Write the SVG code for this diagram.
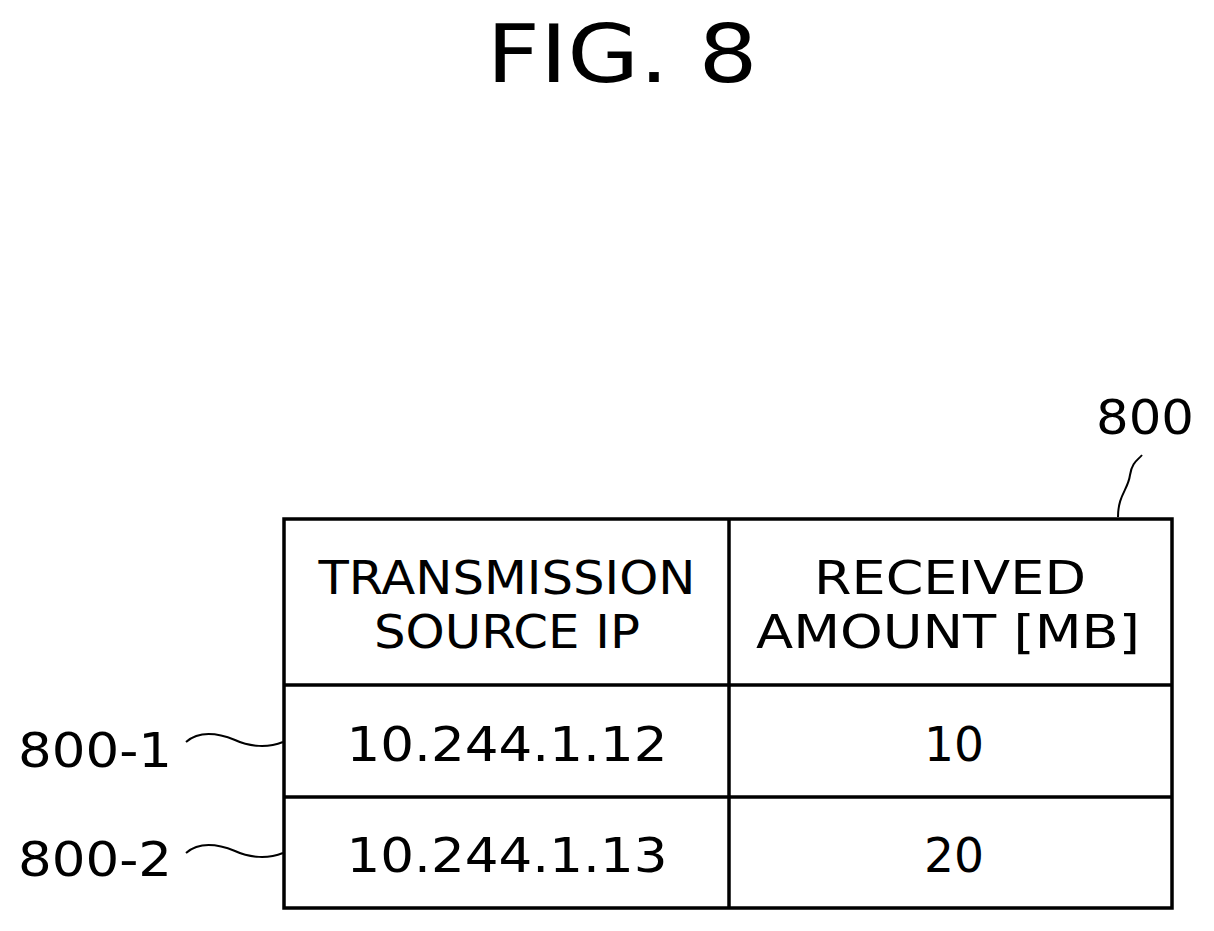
<svg xmlns="http://www.w3.org/2000/svg" width="1214" height="931" viewBox="0 0 1214 931">
<style>
text{font-family:"DejaVu Sans","Liberation Sans",sans-serif;fill:#000;text-anchor:middle}
.t{font-size:46px}
.v{font-size:48px}
.ln{stroke:#000;stroke-width:3.5;fill:none}
.sq{stroke:#000;stroke-width:2;fill:none}
</style>
<rect width="1214" height="931" fill="#fff"/>
<text x="622" y="82" style="font-size:80px" textLength="271" lengthAdjust="spacingAndGlyphs">FIG. 8</text>
<g id="table">
<rect class="ln" x="284" y="519" width="888" height="389"/>
<line class="ln" x1="729" y1="519" x2="729" y2="908"/>
<line class="ln" x1="284" y1="685" x2="1172" y2="685"/>
<line class="ln" x1="284" y1="797" x2="1172" y2="797"/>
</g>
<g id="header1"><text class="t" x="507" y="594" textLength="377" lengthAdjust="spacingAndGlyphs">TRANSMISSION</text><text class="t" x="507" y="648" textLength="266" lengthAdjust="spacingAndGlyphs">SOURCE IP</text></g>
<g id="header2"><text class="t" x="950" y="594" textLength="272" lengthAdjust="spacingAndGlyphs">RECEIVED</text><text class="t" x="948" y="648" textLength="384" lengthAdjust="spacingAndGlyphs">AMOUNT [MB]</text></g>
<g id="row1"><text class="v" x="507" y="761" textLength="321" lengthAdjust="spacingAndGlyphs">10.244.1.12</text><text class="v" x="954" y="761" textLength="60" lengthAdjust="spacingAndGlyphs">10</text></g>
<g id="row2"><text class="v" x="507" y="872" textLength="321" lengthAdjust="spacingAndGlyphs">10.244.1.13</text><text class="v" x="954" y="872" textLength="60" lengthAdjust="spacingAndGlyphs">20</text></g>
<g id="label800"><text class="v" x="1145" y="434" textLength="98" lengthAdjust="spacingAndGlyphs">800</text></g>
<g id="label800-1"><text class="v" x="95" y="767" textLength="154" lengthAdjust="spacingAndGlyphs">800-1</text></g>
<g id="label800-2"><text class="v" x="95" y="876" textLength="154" lengthAdjust="spacingAndGlyphs">800-2</text></g>
<g id="connectors">
<path class="sq" d="M1118 517 C1118 495 1128 490 1130 475 C1132 462 1138 460 1142 455"/>
<path class="sq" d="M186 742 C200 730 220 734 235 740 C250 747 268 748 283 742"/>
<path class="sq" d="M186 853 C200 841 220 845 235 851 C250 858 268 859 283 853"/>
</g>
</svg>
